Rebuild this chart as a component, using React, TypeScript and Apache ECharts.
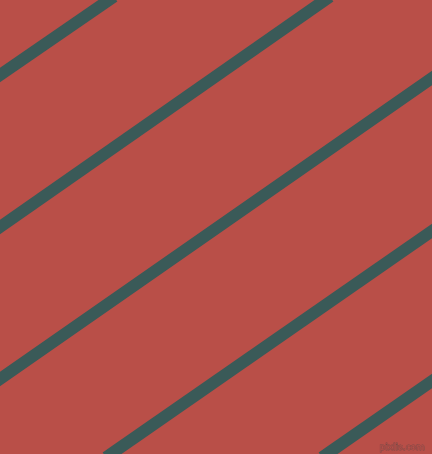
import React, { useEffect, useRef } from "react";
import * as echarts from "echarts";

// where each stripe enters and leaves the picture (x, y in px)
const stripeStarts: [number, number][] = [
  [0, 75],
  [0, 227],
  [0, 379],
  [111, 454],
  [327, 454],
];
const stripeEnds: [number, number][] = [
  [109, 0],
  [325, 0],
  [432, 78],
  [432, 231],
  [432, 381],
];

const xRange = [0, 432];
const yRange = [0, 454];

const background = "#b94f48";
const stripeColor = "#3a5a58";

export default function App() {
  const chartRef = useRef<HTMLDivElement>(null);

  useEffect(() => {
    if (!chartRef.current) return;
    document.body.style.margin = "0";

    const chart = echarts.init(chartRef.current, undefined, { renderer: "svg" });

    const series: echarts.SeriesOption[] = stripeStarts.map((start, i) => ({
      type: "line",
      name: `stripe ${i + 1}`,
      data: [start, stripeEnds[i]],
      showSymbol: false,
      symbol: "none",
      silent: true,
      clip: false,
      lineStyle: { color: stripeColor, width: 12, cap: "square" },
    }));

    chart.setOption({
      animation: false,
      backgroundColor: background,
      grid: { left: 0, right: 0, top: 0, bottom: 0 },
      xAxis: {
        type: "value",
        min: xRange[0],
        max: xRange[1],
        show: false,
      },
      yAxis: {
        type: "value",
        min: yRange[0],
        max: yRange[1],
        inverse: true,
        show: false,
      },
      graphic: [
        {
          type: "text",
          right: 7,
          bottom: 2,
          style: {
            text: "pixlis.com",
            fontFamily: "DejaVu Sans",
            fontSize: 9,
            fill: background,
            stroke: "rgba(90,70,70,0.7)",
            lineWidth: 0.8,
          },
          silent: true,
        },
      ],
      series,
    });

    return () => {
      chart.dispose();
    };
  }, []);

  return <div ref={chartRef} style={{ width: 432, height: 454 }} />;
}
